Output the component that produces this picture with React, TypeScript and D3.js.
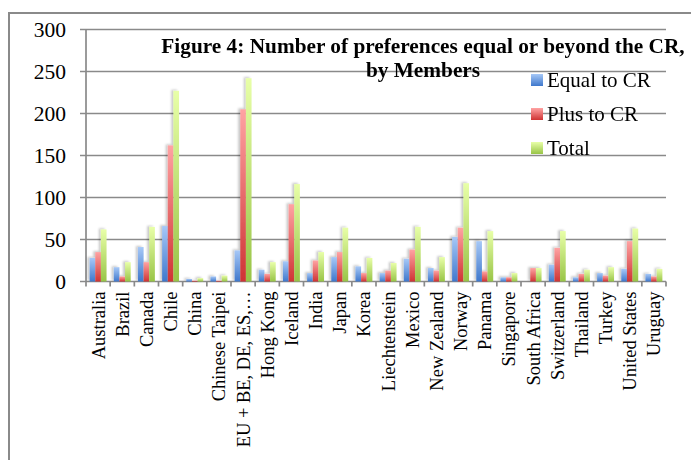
import React from "react";
import * as d3 from "d3";

const categories = [
  "Australia", "Brazil", "Canada", "Chile", "China", "Chinese Taipei",
  "EU + BE, DE, ES,…", "Hong Kong", "Iceland", "India", "Japan", "Korea",
  "Liechtenstein", "Mexico", "New Zealand", "Norway", "Panama", "Singapore",
  "South Africa", "Switzerland", "Thailand", "Turkey", "United States", "Uruguay",
];
const seriesNames = ["Equal to CR", "Plus to CR", "Total"];
const equalToCR = [28, 17, 41, 66, 3, 6, 37, 14, 24, 10, 29, 18, 10, 27, 16, 53, 48, 5, 0, 20, 5, 10, 15, 9];
const plusToCR = [35, 6, 23, 162, 1, 1, 205, 9, 92, 25, 35, 10, 13, 38, 13, 64, 12, 5, 16, 40, 9, 7, 48, 6];
const totalCR = [62, 23, 65, 227, 4, 7, 242, 23, 116, 35, 64, 28, 22, 65, 29, 117, 60, 10, 16, 60, 14, 17, 63, 15];
const yTicks = [0, 50, 100, 150, 200, 250, 300];
const titleLines = ["Figure 4: Number of preferences equal or beyond the CR,", "by Members"];

const seriesValues = [equalToCR, plusToCR, totalCR];
const gradients = [
  { id: "gBlue", top: "#a6c8f7", bottom: "#3f78cc" },
  { id: "gRed", top: "#ffa3a3", bottom: "#cf3434" },
  { id: "gGreen", top: "#e8ffa8", bottom: "#98c446" },
];

const W = 691;
const H = 460;
const plotLeft = 86;
const plotRight = 666;
const plotTop = 29.5;
const plotBottom = 281.5;
const FONT = "'Liberation Serif', 'Times New Roman', serif";
const GRID = "#8a8a8a";

export default function App() {
  const x = d3.scaleBand<string>().domain(categories).range([plotLeft, plotRight]).padding(0);
  const bw = x.bandwidth();
  const x1 = d3.scaleBand<string>().domain(seriesNames).range([bw * 0.15, bw * 0.85]).padding(0);
  const y = d3.scaleLinear().domain([0, 300]).range([plotBottom, plotTop]);

  const boundaries = categories.map((c) => x(c) as number).concat([plotRight]);

  return (
    <svg width={W} height={H} style={{ position: "absolute", left: 0, top: 0, background: "#fff" }}>
      <defs>
        {gradients.map((g) => (
          <linearGradient key={g.id} id={g.id} x1="0" y1="0" x2="0" y2="1">
            <stop offset="0%" stopColor={g.top} />
            <stop offset="100%" stopColor={g.bottom} />
          </linearGradient>
        ))}
        <filter id="shadow" x="-100%" y="-20%" width="300%" height="140%">
          <feDropShadow dx="-2" dy="-1" stdDeviation="1.3" floodColor="#000" floodOpacity="0.22" />
        </filter>
      </defs>
      <rect x={0} y={0} width={W} height={H} fill="#fff" />
      <rect x={9} y={13} width={W + 20} height={H + 20} fill="none" stroke={GRID} strokeWidth={2} />

      {yTicks.map((t) => (
        <line key={"g" + t} x1={plotLeft - 6} x2={plotRight} y1={y(t)} y2={y(t)} stroke={GRID} strokeWidth={1.7} />
      ))}
      <line x1={plotLeft} x2={plotLeft} y1={plotTop} y2={plotBottom} stroke={GRID} strokeWidth={1.7} />
      {boundaries.map((b, i) => (
        <line key={"xt" + i} x1={b} x2={b} y1={plotBottom} y2={plotBottom + 5} stroke={GRID} strokeWidth={1.7} />
      ))}

      {yTicks.map((t) => (
        <text key={"yl" + t} x={66} y={y(t)} dy="0.34em" textAnchor="end" fontFamily={FONT} fontSize={21.5} fill="#000">
          {t}
        </text>
      ))}

      <g filter="url(#shadow)">
        {categories.map((c, i) => (
          <g key={c} transform={`translate(${x(c)},0)`}>
            {seriesNames.map((s, si) => {
              const v = seriesValues[si][i];
              if (v <= 0) return null;
              return (
                <rect
                  key={s}
                  x={x1(s)}
                  y={y(v)}
                  width={x1.bandwidth()}
                  height={y(0) - y(v)}
                  fill={`url(#${gradients[si].id})`}
                />
              );
            })}
          </g>
        ))}
      </g>

      {categories.map((c) => {
        const cx = (x(c) as number) + bw / 2;
        return (
          <text
            key={"cl" + c}
            transform={`translate(${cx},${plotBottom + 10}) rotate(-90)`}
            textAnchor="end"
            dy="0.35em"
            fontFamily={FONT}
            fontSize={18.5}
            fill="#000"
          >
            {c}
          </text>
        );
      })}

      {titleLines.map((l, i) => (
        <text
          key={"t" + i}
          x={423}
          y={53 + i * 24}
          textAnchor="middle"
          fontFamily={FONT}
          fontWeight="bold"
          fontSize={21.3}
          fill="#000"
        >
          {l}
        </text>
      ))}

      {seriesNames.map((s, i) => (
        <g key={"lg" + s} transform={`translate(531,${80 + i * 34})`}>
          <rect x={0} y={-6} width={12} height={12} fill={`url(#${gradients[i].id})`} />
          <text x={16} y={0} dy="0.34em" fontFamily={FONT} fontSize={21} fill="#000">
            {s}
          </text>
        </g>
      ))}
    </svg>
  );
}
